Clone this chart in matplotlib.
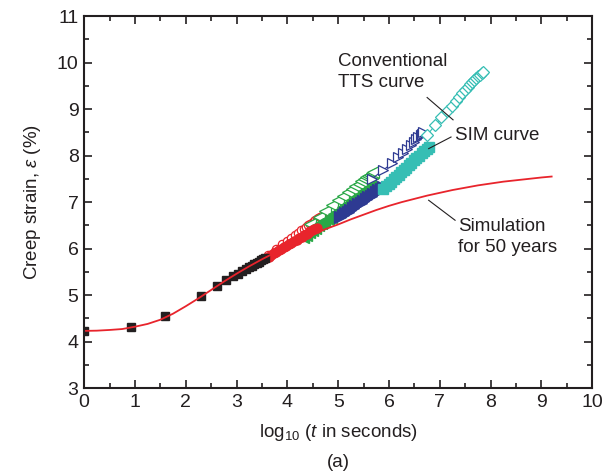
import matplotlib
matplotlib.use('Agg')
import matplotlib.pyplot as plt
from matplotlib.ticker import MultipleLocator

plt.rcParams['font.family'] = ['Liberation Sans', 'DejaVu Sans']
plt.rcParams['mathtext.fontset'] = 'custom'
plt.rcParams['mathtext.rm'] = 'Liberation Sans'
plt.rcParams['mathtext.it'] = 'Liberation Sans:italic'

# %% dados lidos da figura
# simulacao (50 anos)
sim_x = [0.00, 0.25, 0.50, 0.75, 1.00, 1.25, 1.50, 1.75, 2.00, 2.25, 2.50, 2.75,
         3.00, 3.25, 3.50, 3.75, 4.00, 4.25, 4.50, 4.75, 5.00, 5.25, 5.50, 5.75,
         6.00, 6.25, 6.50, 6.75, 7.00, 7.25, 7.50, 7.75, 8.00, 8.25, 8.50, 8.75,
         9.00, 9.20]
sim_y = [4.23, 4.235, 4.25, 4.27, 4.32, 4.38, 4.47, 4.60, 4.76, 4.93, 5.11, 5.29,
         5.46, 5.62, 5.77, 5.91, 6.05, 6.18, 6.30, 6.42, 6.52, 6.63, 6.73, 6.83,
         6.92, 7.00, 7.07, 7.14, 7.20, 7.26, 7.31, 7.36, 7.40, 7.44, 7.47, 7.50,
         7.53, 7.55]

# temperatura de referencia (quadrados pretos)
ref_x = [0.00, 0.92, 1.60, 2.30, 2.61, 2.80, 2.93, 3.03, 3.11, 3.18, 3.24, 3.30,
         3.35, 3.40, 3.44, 3.48, 3.52, 3.55]
ref_y = [4.23, 4.31, 4.55, 4.98, 5.19, 5.32, 5.40, 5.46, 5.51, 5.56, 5.60, 5.63,
         5.67, 5.70, 5.72, 5.75, 5.77, 5.79]

# vermelho: SIM (cheio) e TTS convencional (vazado)
red_sim_x = [3.58, 3.63, 3.68, 3.73, 3.78, 3.83, 3.88, 3.93, 3.98, 4.03, 4.08, 4.13,
             4.18, 4.23, 4.28, 4.33, 4.38, 4.43, 4.48, 4.53, 4.58]
red_sim_y = [5.80, 5.83, 5.87, 5.90, 5.93, 5.96, 6.00, 6.03, 6.06, 6.09, 6.13, 6.16,
             6.19, 6.22, 6.26, 6.29, 6.32, 6.35, 6.39, 6.42, 6.45]
red_tts_x = [3.62, 3.78, 3.90, 4.00, 4.08, 4.15, 4.21, 4.27, 4.32, 4.37, 4.41, 4.45,
             4.49, 4.52, 4.55, 4.58, 4.61, 4.64, 4.66, 4.68]
red_tts_y = [5.86, 5.99, 6.09, 6.17, 6.23, 6.29, 6.34, 6.39, 6.43, 6.47, 6.50, 6.53,
             6.56, 6.59, 6.61, 6.63, 6.65, 6.67, 6.69, 6.71]

# verde
green_sim_x = [4.31, 4.37, 4.43, 4.49, 4.55, 4.61, 4.67, 4.73, 4.79, 4.85, 4.91, 4.97,
               5.03, 5.09, 5.15, 5.21, 5.27, 5.33, 5.39, 5.45, 5.51, 5.57, 5.63]
green_sim_y = [6.25, 6.30, 6.35, 6.40, 6.45, 6.50, 6.55, 6.59, 6.64, 6.69, 6.74, 6.79,
               6.84, 6.89, 6.94, 6.99, 7.04, 7.09, 7.14, 7.18, 7.23, 7.28, 7.33]
green_tts_x = [4.45, 4.62, 4.74, 4.88, 5.00, 5.10, 5.19, 5.27, 5.34, 5.40, 5.45, 5.50,
               5.54, 5.58, 5.62, 5.66, 5.69]
green_tts_y = [6.52, 6.68, 6.81, 6.93, 7.04, 7.13, 7.21, 7.28, 7.35, 7.40, 7.45, 7.49,
               7.53, 7.56, 7.59, 7.62, 7.64]

# azul escuro
navy_sim_x = [5.04, 5.09, 5.14, 5.19, 5.24, 5.29, 5.34, 5.39, 5.44, 5.49, 5.54, 5.59,
              5.64, 5.69, 5.74, 5.79, 5.84, 5.89]
navy_sim_y = [6.68, 6.72, 6.76, 6.79, 6.83, 6.87, 6.91, 6.95, 6.99, 7.02, 7.06, 7.10,
              7.14, 7.18, 7.22, 7.25, 7.29, 7.33]
navy_tts_x = [5.66, 5.89, 6.06, 6.18, 6.28, 6.36, 6.43, 6.49, 6.54, 6.58, 6.62, 6.65,
              6.67]
navy_tts_y = [7.50, 7.69, 7.84, 7.96, 8.06, 8.15, 8.23, 8.29, 8.35, 8.40, 8.44, 8.47,
              8.50]

# ciano
cyan_sim_x = [5.89, 5.94, 5.99, 6.04, 6.09, 6.14, 6.19, 6.24, 6.29, 6.34, 6.39, 6.44,
              6.49, 6.54, 6.59, 6.64, 6.69, 6.74, 6.78]
cyan_sim_y = [7.29, 7.34, 7.39, 7.44, 7.49, 7.54, 7.59, 7.64, 7.69, 7.74, 7.80, 7.85,
              7.90, 7.95, 8.00, 8.05, 8.10, 8.15, 8.19]
cyan_tts_x = [6.75, 6.91, 7.03, 7.14, 7.23, 7.31, 7.38, 7.44, 7.50, 7.55, 7.60, 7.64,
              7.68, 7.72, 7.76, 7.79, 7.82, 7.85]
cyan_tts_y = [8.44, 8.66, 8.82, 8.95, 9.07, 9.17, 9.26, 9.34, 9.41, 9.47, 9.53, 9.58,
              9.63, 9.67, 9.71, 9.74, 9.77, 9.79]

RED = '#e8242c'
GREEN = '#29a847'
NAVY = '#2e3a92'
CYAN = '#36beb4'
BLACK = '#231f20'

# %% figura
fig = plt.figure(figsize=(6.05, 4.75), dpi=100)
ax = fig.add_axes([0.139, 0.183, 0.840, 0.783])

# vazados (TTS convencional)
ax.plot(red_tts_x, red_tts_y, '-o', color=RED, mfc='white', ms=6, mew=0.9, lw=0.8)
ax.plot(green_tts_x, green_tts_y, '-<', color=GREEN, mfc='white', ms=8, mew=0.9, lw=0.8)
ax.plot(navy_tts_x, navy_tts_y, '->', color=NAVY, mfc='white', ms=7.5, mew=0.9, lw=0.8)
ax.plot(cyan_tts_x, cyan_tts_y, '-D', color=CYAN, mfc='white', ms=6, mew=0.9, lw=0.8)

# cheios (SIM)
ax.plot(green_sim_x, green_sim_y, '<', color=GREEN, ms=8)
ax.plot(navy_sim_x, navy_sim_y, '>', color=NAVY, ms=8)
ax.plot(cyan_sim_x, cyan_sim_y, 's', color=CYAN, ms=6.5)
ax.plot(red_sim_x, red_sim_y, 'o', color=RED, ms=6.5)
ax.plot(ref_x, ref_y, 's', color=BLACK, ms=5.5)

# simulacao
ax.plot(sim_x, sim_y, '-', color=RED, lw=1.3)

# anotacoes
ax.text(5.0, 9.8, 'Conventional\nTTS curve', fontsize=13.5, ha='left', va='center',
        linespacing=1.25, color=BLACK)
ax.plot([6.75, 7.26], [9.25, 8.77], color=BLACK, lw=0.8)
ax.text(7.3, 8.44, 'SIM curve', fontsize=13.5, ha='left', va='center', color=BLACK)
ax.plot([7.22, 6.78], [8.40, 8.15], color=BLACK, lw=0.8)
ax.text(7.35, 6.25, 'Simulation\nfor 50 years', fontsize=13.5, ha='left', va='center',
        linespacing=1.25, color=BLACK)
ax.plot([7.30, 6.78], [6.61, 7.04], color=BLACK, lw=0.8)

# eixos
ax.set_xlim(0, 10)
ax.set_ylim(3, 11)
ax.xaxis.set_major_locator(MultipleLocator(1))
ax.xaxis.set_minor_locator(MultipleLocator(0.5))
ax.yaxis.set_major_locator(MultipleLocator(1))
ax.yaxis.set_minor_locator(MultipleLocator(0.5))
ax.tick_params(which='both', direction='in', top=True, right=True, width=1.2,
               labelsize=14, colors=BLACK, pad=4)
ax.tick_params(which='major', length=6)
ax.tick_params(which='minor', length=3.5)
for s in ax.spines.values():
    s.set_linewidth(1.5)
    s.set_color(BLACK)

ax.set_xlabel(r'log$_{10}$ ($t$ in seconds)', fontsize=13.5, labelpad=8, color=BLACK)
ax.set_ylabel(r'Creep strain, $\varepsilon$ (%)', fontsize=13.5, labelpad=10, color=BLACK)
fig.text(0.559, 0.027, '(a)', fontsize=13.5, ha='center', va='center', color=BLACK)

plt.savefig('out.png', dpi=100)
